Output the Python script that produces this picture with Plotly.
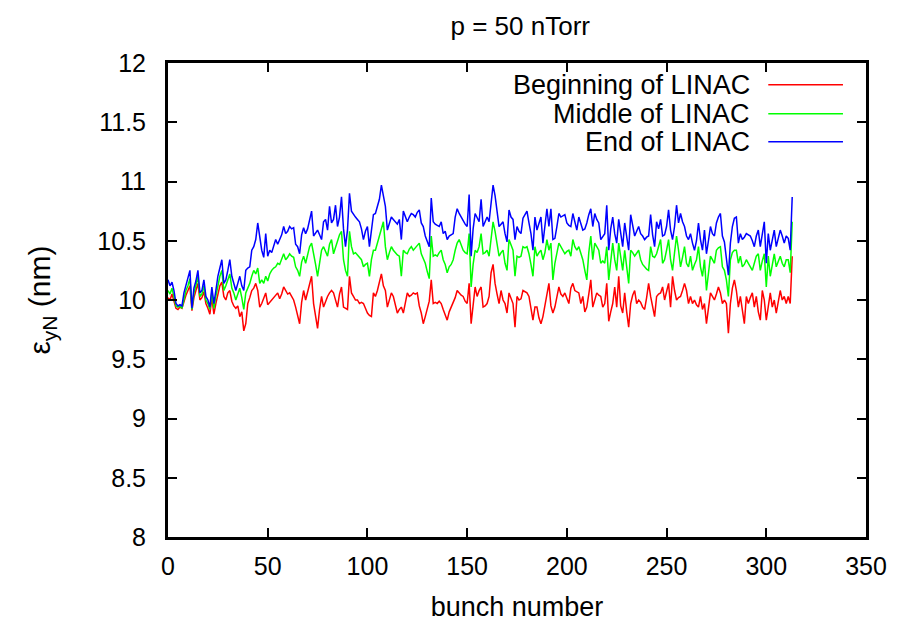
import plotly.graph_objects as go

bunch = list(range(314))

blue = [
10.17,10.12,10.15,10.08,9.97,9.95,9.96,9.95,10.06,10.12,10.18,10.25,9.93,10.10,10.16,10.25,10.06,10.08,10.17,10.03,
10.00,9.94,10.11,9.97,10.08,10.20,10.27,10.34,10.14,10.17,10.25,10.34,10.20,10.15,10.08,10.14,10.20,10.12,10.08,10.25,
10.27,10.28,10.42,10.45,10.51,10.65,10.55,10.42,10.36,10.56,10.37,
10.42,10.40,10.46,10.51,10.47,10.51,10.55,10.62,10.56,10.58,10.62,10.60,10.61,10.47,10.45,10.39,10.55,10.61,10.56,10.60,
10.68,10.75,10.54,10.57,10.59,10.55,10.51,10.66,10.68,10.59,10.79,10.65,10.68,10.80,10.62,10.70,10.87,10.60,10.45,10.59,
10.90,10.75,10.72,10.70,10.68,10.66,10.60,10.51,10.58,10.62,10.45,10.60,10.72,
10.73,10.80,10.85,10.97,10.88,10.79,10.59,10.64,10.70,10.68,10.66,10.64,10.68,10.51,10.75,10.70,10.66,10.70,10.73,10.72,
10.70,10.74,10.76,10.65,10.62,10.54,10.50,10.45,10.86,10.66,10.64,10.63,10.62,10.66,10.56,10.58,10.51,10.54,10.55,10.56,
10.70,10.77,10.73,10.70,10.66,10.64,10.62,10.89,10.37,10.60,10.73,10.70,10.66,
10.85,10.62,10.66,10.70,10.66,10.85,10.97,10.88,10.76,10.62,10.64,10.66,10.56,10.49,10.76,10.70,10.68,10.51,10.62,10.58,
10.56,10.69,10.72,10.75,10.65,10.56,10.42,10.70,10.59,10.65,10.70,10.48,10.62,10.77,10.62,10.77,10.51,10.52,10.62,10.73,
10.70,10.71,10.72,10.65,10.63,10.62,10.73,10.66,10.59,10.70,10.64,10.59,
10.60,10.65,10.72,10.77,10.62,10.73,10.68,10.65,10.51,10.54,10.56,10.80,10.42,10.60,10.70,10.56,10.48,10.68,10.55,10.45,
10.65,10.55,10.42,10.72,10.62,10.54,10.58,10.62,10.56,10.54,10.51,10.53,10.54,10.72,10.55,10.45,10.66,10.60,10.68,10.54,
10.55,10.62,10.76,10.59,10.51,10.62,10.80,10.65,10.73,10.66,10.62,10.54,
10.51,10.56,10.48,10.42,10.50,10.65,10.51,10.42,10.59,10.39,10.50,10.62,10.56,10.54,10.65,10.70,10.73,10.54,10.49,10.34,
10.21,10.48,10.62,10.69,10.70,10.48,10.56,10.51,10.53,10.56,10.55,10.54,10.50,10.45,10.54,10.59,10.45,10.55,10.66,10.31,
10.56,10.42,10.50,10.59,10.45,10.52,10.59,10.54,10.48,10.54,10.52,10.42,10.87]

green = [
10.08,10.05,10.10,10.02,9.95,9.94,9.95,9.93,10.02,10.08,10.12,10.18,9.92,10.06,10.12,10.20,10.03,10.05,10.12,10.00,
9.97,9.92,10.07,9.93,10.03,10.12,10.20,10.25,10.08,10.12,10.18,10.22,10.10,10.06,10.00,10.06,10.10,10.02,9.92,10.06,
10.10,10.14,10.20,10.25,10.22,10.27,10.14,10.17,10.14,10.20,10.16,
10.22,10.25,10.27,10.28,10.31,10.30,10.35,10.39,10.34,10.36,10.39,10.37,10.36,10.28,10.25,10.20,10.32,10.37,10.31,10.38,
10.45,10.48,10.37,10.30,10.20,10.32,10.42,10.45,10.40,10.37,10.47,10.51,10.39,10.45,10.51,10.55,10.58,10.34,10.25,10.20,
10.58,10.45,10.39,10.40,10.38,10.36,10.34,10.28,10.30,10.31,10.20,10.34,10.42,
10.42,10.48,10.54,10.62,10.66,10.45,10.34,10.40,10.45,10.42,10.40,10.38,10.37,10.20,10.42,10.40,10.39,10.43,10.45,10.42,
10.44,10.46,10.48,10.39,10.35,10.31,10.24,10.18,10.54,10.37,10.38,10.37,10.40,10.42,10.34,10.30,10.23,10.28,10.30,10.34,
10.42,10.48,10.51,10.47,10.42,10.40,10.39,10.56,10.11,10.30,10.42,10.40,10.45,
10.56,10.39,10.40,10.42,10.37,10.54,10.66,10.58,10.48,10.37,10.40,10.42,10.31,10.25,10.51,10.46,10.42,10.20,10.37,10.36,
10.37,10.45,10.44,10.45,10.39,10.30,10.20,10.45,10.37,10.40,10.42,10.34,10.40,10.51,10.42,10.48,10.17,10.31,10.40,10.48,
10.45,10.42,10.39,10.41,10.42,10.37,10.51,10.45,10.42,10.45,10.40,10.34,
10.25,10.17,10.40,10.54,10.34,10.48,10.45,10.42,10.31,10.33,10.31,10.45,10.17,10.35,10.48,10.34,10.25,10.48,10.35,10.25,
10.42,10.30,10.14,10.42,10.40,10.37,10.40,10.42,10.34,10.30,10.28,10.26,10.25,10.45,10.37,10.36,10.39,10.45,10.51,10.31,
10.34,10.42,10.51,10.34,10.25,10.40,10.54,10.42,10.28,10.36,10.45,10.31,
10.28,10.37,10.25,10.30,10.34,10.45,10.28,10.20,10.34,10.08,10.25,10.37,10.34,10.31,10.42,10.44,10.45,10.28,10.25,10.17,
10.03,10.34,10.40,10.42,10.42,10.31,10.37,10.28,10.30,10.34,10.31,10.28,10.25,10.31,10.37,10.39,10.25,10.33,10.39,10.11,
10.37,10.20,10.30,10.39,10.28,10.33,10.37,10.31,10.28,10.34,10.34,10.23,10.66]

red = [
10.02,10.00,10.05,9.99,9.93,9.92,9.94,9.93,9.99,10.04,10.08,10.12,9.91,10.02,10.08,10.14,10.00,10.02,10.07,9.97,
9.93,9.88,10.02,9.88,9.97,10.06,10.12,10.15,10.03,10.00,10.06,10.08,9.99,9.95,9.93,9.95,9.86,9.90,9.74,9.80,
9.97,10.02,10.08,10.10,10.14,10.08,9.94,9.97,10.02,10.06,9.96,
9.98,10.00,10.02,10.04,10.06,10.01,10.05,10.11,10.08,10.05,10.06,10.03,10.00,9.94,9.88,9.80,9.98,10.08,10.00,10.06,
10.14,10.20,9.97,9.88,9.76,9.92,10.03,9.94,9.99,10.03,10.06,10.08,10.06,10.00,9.94,10.05,10.11,9.94,9.93,9.92,
10.20,10.06,10.03,10.00,10.00,9.97,9.98,9.97,9.93,9.89,9.87,9.86,10.06,
10.03,10.08,10.15,10.22,10.12,10.08,9.94,10.00,10.06,10.03,9.96,9.89,9.92,9.94,9.89,9.98,10.06,10.03,10.04,10.06,
10.05,10.06,9.95,9.89,9.80,9.86,9.92,9.99,10.17,9.97,9.98,9.97,9.99,9.97,9.92,9.88,9.83,9.90,9.94,9.97,
10.02,10.08,10.06,10.04,10.03,9.99,9.97,10.14,9.80,9.94,10.11,10.03,10.08,
10.11,9.94,9.95,9.97,10.03,10.23,10.30,10.14,10.05,9.97,10.08,10.00,9.97,9.89,10.06,10.02,9.97,9.77,10.03,10.00,
10.01,10.08,10.07,10.06,10.03,9.93,9.83,9.94,9.94,9.85,9.80,9.86,9.96,10.06,10.14,9.95,9.89,9.94,10.02,10.11,
10.05,10.03,10.06,10.01,9.97,10.10,10.14,10.08,10.07,10.06,9.97,10.03,
9.90,9.94,10.05,10.17,9.94,10.00,10.06,10.04,10.03,9.94,9.97,10.14,9.82,9.90,9.97,10.11,9.94,10.20,9.95,9.89,
10.06,9.90,9.77,9.97,10.04,10.08,9.97,10.00,9.98,9.94,9.92,10.02,10.14,10.03,9.95,9.86,10.03,10.05,10.06,10.11,
10.00,10.06,10.14,9.94,10.20,10.08,10.00,10.02,10.03,10.08,10.14,10.08,
9.97,10.03,9.97,10.00,9.96,9.94,10.03,9.92,9.97,9.80,9.94,10.06,10.03,10.00,10.05,10.11,10.06,9.97,10.00,9.97,
9.72,9.97,10.10,10.17,10.08,9.94,10.03,9.92,9.80,10.03,9.97,10.02,10.06,9.94,10.03,9.90,9.83,10.08,10.00,9.83,
9.95,10.06,9.94,10.00,9.89,9.98,10.08,10.00,10.03,9.97,10.03,9.97,10.37]

series_names = ["Beginning of LINAC", "Middle of LINAC", "End of LINAC"]
series_colors = ["#ff0000", "#00ff00", "#0000ff"]
series_values = [red, green, blue]

x_ticks = [0, 50, 100, 150, 200, 250, 300, 350]
y_ticks = [8, 8.5, 9, 9.5, 10, 10.5, 11, 11.5, 12]
y_tick_text = ["8", "8.5", "9", "9.5", "10", "10.5", "11", "11.5", "12"]

FONT = "Liberation Sans, Arial, sans-serif"

fig = go.Figure()
for name, col, vals in zip(series_names, series_colors, series_values):
    fig.add_trace(go.Scatter(x=bunch[:len(vals)], y=vals, mode="lines", name=name,
                             line=dict(color=col, width=1.5), showlegend=False))

# gnuplot-style legend: right-aligned text with line sample on its right
row_y = [0.954, 0.893, 0.834]
for name, col, yy in zip(series_names, series_colors, row_y):
    fig.add_annotation(xref="paper", yref="paper", x=0.836, y=yy, text=name,
                       showarrow=False, xanchor="right", yanchor="middle",
                       font=dict(family=FONT, size=27, color="#000"))
    fig.add_shape(type="line", xref="paper", yref="paper", x0=0.860, x1=0.967,
                  y0=yy, y1=yy, line=dict(color=col, width=1.5))

axis_common = dict(showline=True, linecolor="black", linewidth=3, mirror="ticks",
                   ticks="inside", ticklen=9, tickwidth=2, tickcolor="black",
                   showgrid=False, zeroline=False,
                   tickfont=dict(family=FONT, size=25, color="#000"))

fig.update_layout(
    width=918, height=621,
    margin=dict(l=160, r=60, t=55, b=92),
    paper_bgcolor="white", plot_bgcolor="white",
    title=dict(text="p = 50 nTorr", x=0.558, xanchor="center", xref="container",
               y=0.971, yanchor="middle", yref="container",
               font=dict(family=FONT, size=26, color="#000")),
    xaxis=dict(range=[0, 350], tickvals=x_ticks, ticklabelstandoff=5,
               title=dict(text="bunch number", font=dict(family=FONT, size=27, color="#000"), standoff=19),
               **axis_common),
    yaxis=dict(range=[8, 12], tickvals=y_ticks, ticktext=y_tick_text, ticklabelstandoff=14,
               title=dict(text="ε<sub>yN</sub> (nm)", font=dict(family=FONT, size=30, color="#000"), standoff=38),
               **axis_common),
)

fig.write_html("out.html")
